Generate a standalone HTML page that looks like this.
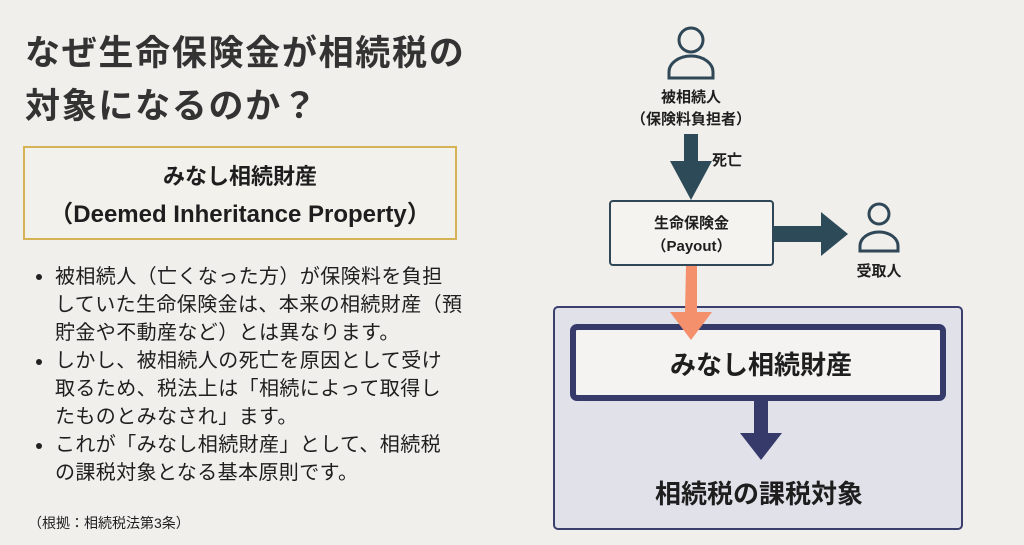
<!DOCTYPE html>
<html><head><meta charset="utf-8"><style>
body{margin:0;width:1024px;height:545px;background:#f0efeb;position:relative;overflow:hidden;font-family:"Liberation Sans","Noto Sans CJK JP",sans-serif;color:#1e1e1e}
.a{position:absolute;white-space:nowrap}
.t{font-size:35px;font-weight:bold;color:#333;left:25px;letter-spacing:1.7px}
.b{font-size:20px;left:55px;letter-spacing:0.4px;line-height:28px}
.dot{position:absolute;width:6px;height:6px;border-radius:50%;background:#222;left:36px}
.c{text-align:center;font-weight:bold}
</style></head><body>
<div class="a t" style="top:25px">なぜ生命保険金が相続税の</div>
<div class="a t" style="top:78px">対象になるのか？</div>
<div class="a" style="left:23px;top:146px;width:430px;height:90px;border:2px solid #d6b354;background:#f3f1ec"></div>
<div class="a c" style="left:23px;top:159px;width:434px;font-size:22px">みなし相続財産</div>
<div class="a c" style="left:23px;top:194px;width:434px;font-size:24px">（Deemed Inheritance Property）</div>
<div class="dot" style="top:274px"></div><div class="dot" style="top:359px"></div><div class="dot" style="top:443px"></div>
<div class="a b" style="top:263px">被相続人（亡くなった方）が保険料を負担<br>していた生命保険金は、本来の相続財産（預<br>貯金や不動産など）とは異なります。<br>しかし、被相続人の死亡を原因として受け<br>取るため、税法上は「相続によって取得し<br>たものとみなされ」ます。<br>これが「みなし相続財産」として、相続税<br>の課税対象となる基本原則です。</div>
<div class="a" style="left:28px;top:513px;font-size:14px">（根拠：相続税法第3条）</div>

<svg class="a" style="left:0;top:0" width="1024" height="545">
<g fill="none" stroke="#2f4756" stroke-width="3">
<circle cx="691" cy="40" r="12"/><path d="M669 78 v-6 a22 16 0 0 1 44 0 v6 z"/>
<circle cx="879" cy="214" r="10"/><path d="M860 251 v-5 a19 14 0 0 1 38 0 v5 z"/>
</g>
<path d="M684 134h14v27h14l-21 39-21-39h14z" fill="#2d4a59"/>
<path d="M773 226h48v-14l27 22-27 22v-14h-48z" fill="#2d4a59"/>
<rect x="554" y="307" width="408" height="222" rx="4" fill="#e1e1ea" stroke="#3a3f6e" stroke-width="2"/>
<rect x="573" y="327" width="370" height="71" rx="4" fill="#f4f3f2" stroke="#353a6b" stroke-width="6"/>
<path d="M686 265h11v47h15l-21 28-21-28h15z" fill="#f4906c"/>
<path d="M754 401h14v32h14l-21 27-21-27h14z" fill="#353a6b"/>
<rect x="610" y="201" width="163" height="64" rx="3" fill="#f4f3f0" stroke="#2f4756" stroke-width="2"/>
</svg>
<div class="a c" style="left:591px;top:86px;width:200px;font-size:15px">被相続人</div>
<div class="a c" style="left:591px;top:108px;width:200px;font-size:15px">（保険料負担者）</div>
<div class="a c" style="left:712px;top:149px;font-size:15px">死亡</div>
<div class="a c" style="left:610px;top:212px;width:163px;font-size:15px">生命保険金</div>
<div class="a c" style="left:610px;top:235px;width:163px;font-size:15px">（Payout）</div>
<div class="a c" style="left:839px;top:260px;width:80px;font-size:15px">受取人</div>
<div class="a c" style="left:573px;top:345px;width:376px;font-size:26px">みなし相続財産</div>
<div class="a c" style="left:554px;top:474px;width:410px;font-size:26px">相続税の課税対象</div>
</body></html>
